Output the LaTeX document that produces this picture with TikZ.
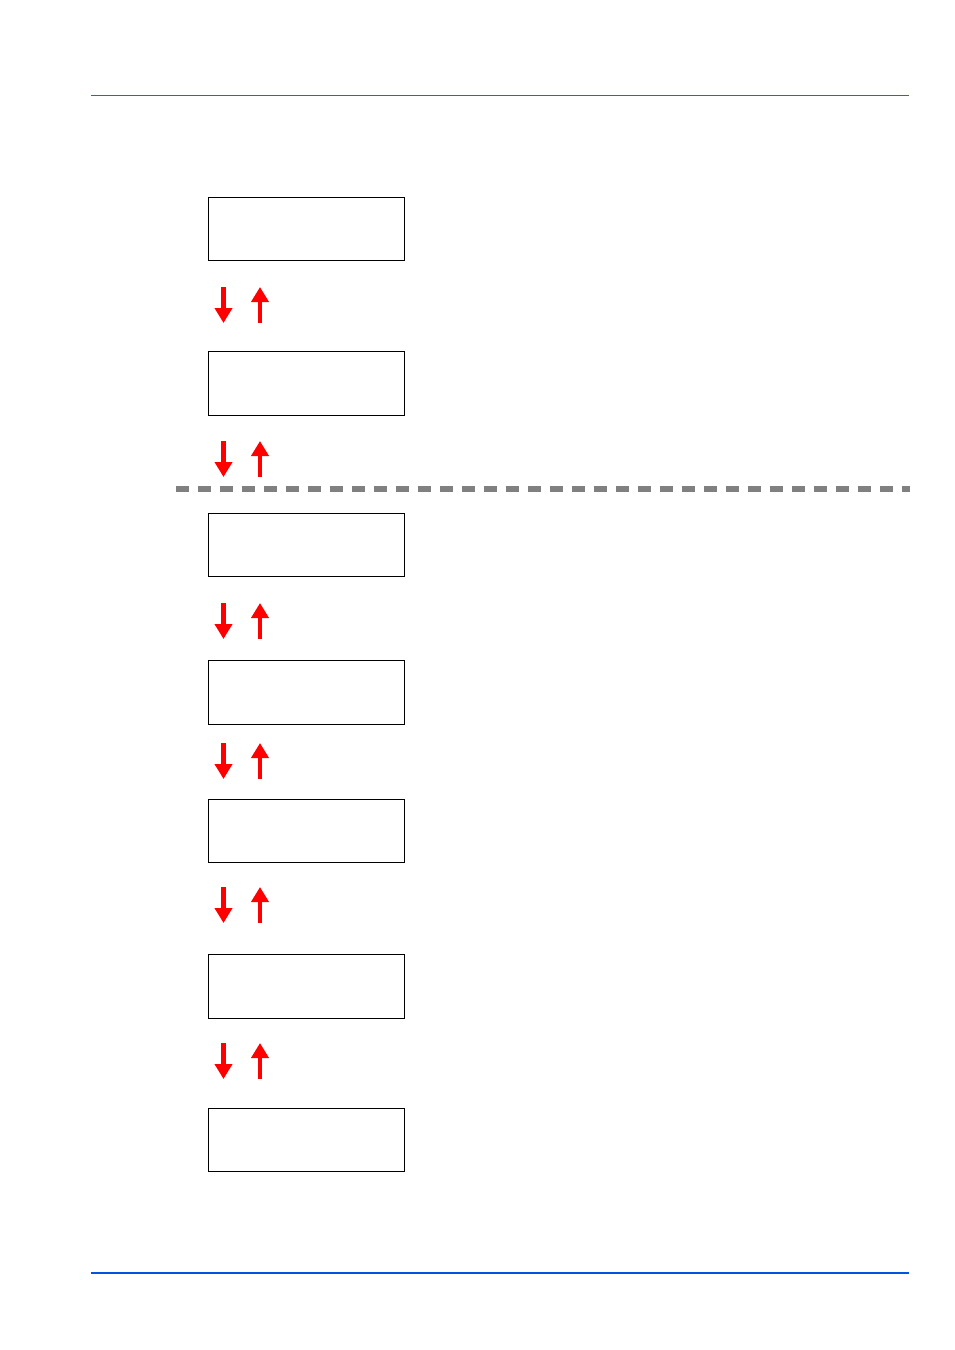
\documentclass[tikz,border=0pt]{standalone}
\usetikzlibrary{arrows.meta}
\definecolor{rulegray}{HTML}{4A5A9A}
\definecolor{bluebar}{HTML}{0055E0}
\definecolor{dashgray}{HTML}{808080}
\definecolor{arrred}{HTML}{FF0000}
\tikzset{
  screen/.style={draw=black, line width=1.1pt, minimum width=196pt, minimum height=63pt, inner sep=0pt, anchor=north west},
  redarrow/.style={draw=arrred, line width=4.4pt, -{Triangle[width=17pt,length=15pt]}, shorten >=0pt},
  sepline/.style={draw=dashgray, line width=5.5pt, dash pattern=on 13pt off 9pt}
}
\begin{document}
\begin{tikzpicture}[x=1pt,y=-1pt]
\useasboundingbox (0,0) rectangle (954,1350);
\coordinate (tl) at (91,95.5);
\coordinate (tr) at (909,95.5);
\draw[rulegray, line width=0.9pt] (tl) -- (tr);
\coordinate (bl) at (91,1272.5);
\coordinate (br) at (909,1272.5);
\draw[bluebar, line width=2pt] (bl) -- (br);
\coordinate (dl) at (176,489);
\coordinate (dr) at (910,489);
\draw[sepline] (dl) -- (dr);
\node[screen] (s1) at (208,197) {};
\node[screen, minimum height=64pt] (s2) at (208,351) {};
\node[screen] (s3) at (208,513) {};
\node[screen, minimum height=64pt] (s4) at (208,660) {};
\node[screen] (s5) at (208,799) {};
\node[screen, minimum height=64pt] (s6) at (208,954) {};
\node[screen] (s7) at (208,1108) {};
\foreach \n/\y in {a/287, b/441, c/603, d/743, e/887, f/1043}{
  \coordinate (\n dt) at (223.5,\y);
  \coordinate (\n db) at (223.5,\y+36);
  \coordinate (\n ut) at (260,\y);
  \coordinate (\n ub) at (260,\y+36);
  \draw[redarrow] (\n dt) -- (\n db);
  \draw[redarrow] (\n ub) -- (\n ut);
}
\end{tikzpicture}
\end{document}
